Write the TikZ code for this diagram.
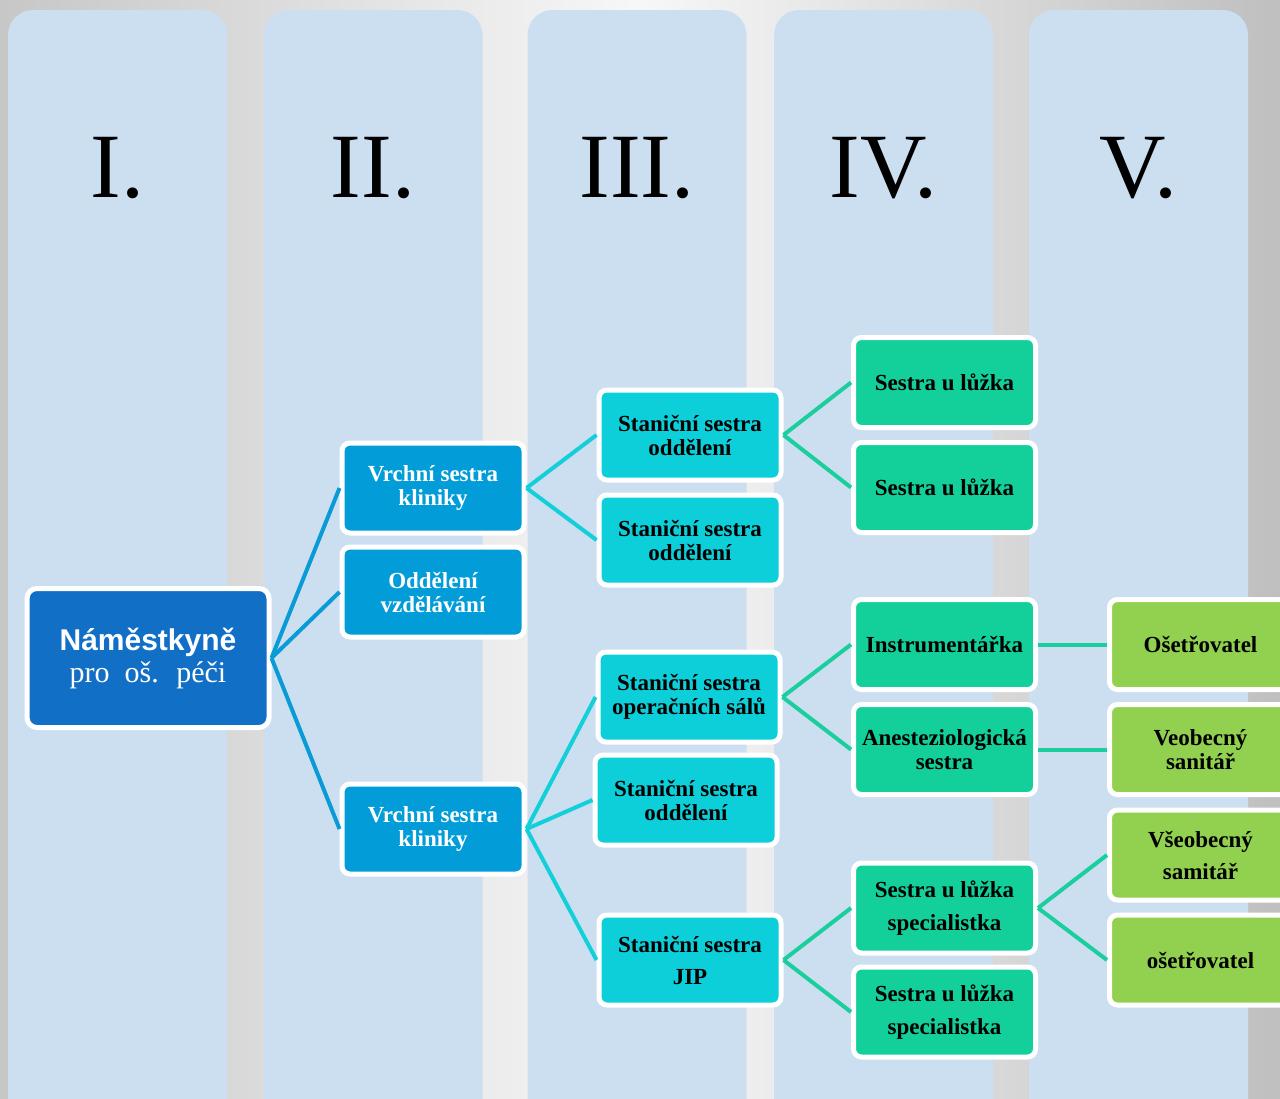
\documentclass[tikz,border=0pt]{standalone}
\usepackage{fontspec}
\setmainfont{Liberation Serif}
\newfontfamily\headfont{Liberation Sans}
\usetikzlibrary{positioning}

\definecolor{colbg}{RGB}{204,223,240}
\definecolor{fillone}{RGB}{17,111,198}
\definecolor{filltwo}{RGB}{2,157,216}
\definecolor{fillthree}{RGB}{12,207,218}
\definecolor{fillfour}{RGB}{19,208,155}
\definecolor{fillfive}{RGB}{146,208,80}
\definecolor{linkblue}{RGB}{8,155,214}
\definecolor{linkcyan}{RGB}{18,207,218}
\definecolor{linkgreen}{RGB}{26,207,157}

\tikzstyle{box} = [draw=white, line width=2.5pt, rounded corners=4pt, minimum width=91pt, minimum height=45pt, inner sep=2pt, align=center, font=\fontsize{11.5}{12}\selectfont\bfseries]
\tikzstyle{lvlone} = [box, fill=fillone, text=white, rounded corners=5pt, minimum width=121pt, minimum height=69.5pt, font=\fontsize{15}{16}\selectfont]
\tikzstyle{lvltwo} = [box, fill=filltwo, text=white]
\tikzstyle{lvlthree} = [box, fill=fillthree, text=black]
\tikzstyle{lvlfour} = [box, fill=fillfour, text=black]
\tikzstyle{lvlfive} = [box, fill=fillfive, text=black]
\tikzstyle{numeral} = [font=\fontsize{46}{46}\selectfont, text=black, inner sep=0pt]
\tikzstyle{link} = [line width=2pt]

\begin{document}
\begin{tikzpicture}[x=0.5pt, y=-0.5pt]

	% background and columns
	\useasboundingbox (0,0) rectangle (1280,1098);
	\clip (0,0) rectangle (1280,1098);
	\shade[left color=black!22, right color=black!25, middle color=black!3] (0,0) rectangle (1280,1098);
	\foreach \cx/\num [count=\i] in {117.5/I., 373/II., 637/III., 883.5/IV., 1138.5/V.} {
		\fill[colbg, rounded corners=12.5pt] (\cx-109.5,10) rectangle (\cx+109.5,1140);
		\node[numeral] (num\i) at (\cx,168) {\num};
	}

	% I.
	\node[lvlone] (head) at (148,658) {{\headfont\bfseries Náměstkyně}\\ pro~ oš.~ péči};

	% II.
	\node[lvltwo] (vsk1) at (433,488) {Vrchní sestra\\kliniky};
	\node[lvltwo] (odv) at (433,592) {Oddělení\\vzdělávání};
	\node[lvltwo] (vsk2) at (433,829) {Vrchní sestra\\kliniky};

	% III.
	\node[lvlthree] (sso1) at (690,435) {Staniční sestra\\oddělení};
	\node[lvlthree] (sso2) at (690,540) {Staniční sestra\\oddělení};
	\node[lvlthree] (ssos) at (689,697) {Staniční sestra\\operačních sálů};
	\node[lvlthree] (sso3) at (686,800) {Staniční sestra\\oddělení};
	\node[lvlthree] (ssjip) at (690,960) {Staniční sestra\\[4pt]JIP};

	% IV.
	\node[lvlfour] (sul1) at (944.5,382.5) {Sestra u lůžka};
	\node[lvlfour] (sul2) at (944.5,487.5) {Sestra u lůžka};
	\node[lvlfour] (instr) at (944.5,644.5) {Instrumentářka};
	\node[lvlfour] (anest) at (944.5,749.5) {Anesteziologická\\sestra};
	\node[lvlfour] (suls1) at (944.5,908) {Sestra u lůžka\\[4.5pt]specialistka};
	\node[lvlfour] (suls2) at (944.5,1012) {Sestra u lůžka\\[4.5pt]specialistka};

	% V.
	\node[lvlfive] (oset1) at (1200.5,644.5) {Ošetřovatel};
	\node[lvlfive] (sanit) at (1200.5,749.5) {Veobecný\\sanitář};
	\node[lvlfive] (vseob) at (1200.5,855) {Všeobecný\\[4pt]samitář};
	\node[lvlfive] (oset2) at (1200.5,960) {ošetřovatel};

	% connections
	\draw [link, linkblue] (head.east) -- (vsk1.west);
	\draw [link, linkblue] (head.east) -- (odv.west);
	\draw [link, linkblue] (head.east) -- (vsk2.west);
	\draw [link, linkcyan] (vsk1.east) -- (sso1.west);
	\draw [link, linkcyan] (vsk1.east) -- (sso2.west);
	\draw [link, linkcyan] (vsk2.east) -- (ssos.west);
	\draw [link, linkcyan] (vsk2.east) -- (sso3.west);
	\draw [link, linkcyan] (vsk2.east) -- (ssjip.west);
	\draw [link, linkgreen] (sso1.east) -- (sul1.west);
	\draw [link, linkgreen] (sso1.east) -- (sul2.west);
	\draw [link, linkgreen] (ssos.east) -- (instr.west);
	\draw [link, linkgreen] (ssos.east) -- (anest.west);
	\draw [link, linkgreen] (ssjip.east) -- (suls1.west);
	\draw [link, linkgreen] (ssjip.east) -- (suls2.west);
	\draw [link, linkgreen] (instr.east) -- (oset1.west);
	\draw [link, linkgreen] (anest.east) -- (sanit.west);
	\draw [link, linkgreen] (suls1.east) -- (vseob.west);
	\draw [link, linkgreen] (suls1.east) -- (oset2.west);

\end{tikzpicture}
\end{document}
